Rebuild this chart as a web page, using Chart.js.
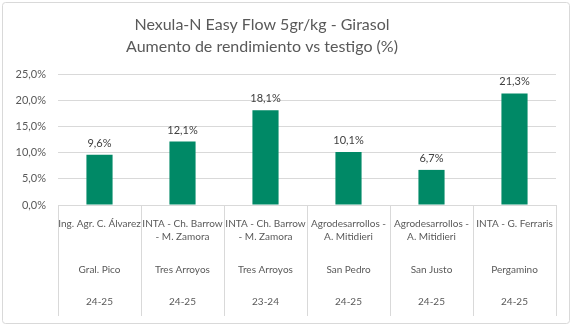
<!DOCTYPE html>
<html lang='es'>
<head>
  <meta charset='UTF-8'>
  <title>Nexula-N Easy Flow - Girasol</title>
  <script src="https://cdn.jsdelivr.net/npm/chart.js@4.4.1/dist/chart.umd.min.js"></script>
  <style>
    html, body { margin: 0; padding: 0; background: #fff; }
    #wrap { position: relative; width: 572px; height: 326px; }
  </style>
</head>
<body>
<div id="wrap"><canvas id="chart" width="572" height="326"></canvas></div>
<script>
  const titleLines = ['Nexula-N Easy Flow 5gr/kg - Girasol', 'Aumento de rendimiento vs testigo (%)'];
  const institutions = [
    ['Ing. Agr. C. Álvarez'],
    ['INTA - Ch. Barrow', '- M. Zamora'],
    ['INTA - Ch. Barrow', '- M. Zamora'],
    ['Agrodesarrollos -', 'A. Mitidieri'],
    ['Agrodesarrollos -', 'A. Mitidieri'],
    ['INTA - G. Ferraris']
  ];
  const locations = ['Gral. Pico', 'Tres Arroyos', 'Tres Arroyos', 'San Pedro', 'San Justo', 'Pergamino'];
  const seasons = ['24-25', '24-25', '23-24', '24-25', '24-25', '24-25'];
  const values = [9.6, 12.1, 18.1, 10.1, 6.7, 21.3];

  const FONT = 'Lato, "Open Sans", sans-serif';
  const fmt = v => v.toFixed(1).replace('.', ',') + '%';

  // frame, title, bar value labels and the 3-row category axis
  const decor = {
    id: 'decor',
    beforeDraw(chart) {
      const c = chart.ctx;
      c.save();
      c.fillStyle = '#fff';
      c.fillRect(0, 0, chart.width, chart.height);
      c.strokeStyle = '#d9d9d9';
      c.lineWidth = 1;
      c.beginPath();
      c.roundRect(2.5, 2.5, chart.width - 5, chart.height - 5, 3);
      c.stroke();
      c.restore();
    },
    afterDraw(chart) {
      const c = chart.ctx;
      const x = chart.scales.x;
      const area = chart.chartArea;
      c.save();
      // title
      c.fillStyle = '#595959';
      c.font = '16px ' + FONT;
      c.textAlign = 'center';
      c.textBaseline = 'middle';
      c.fillText(titleLines[0], 262, 25);
      c.fillText(titleLines[1], 262, 47);

      // value labels
      c.fillStyle = '#404040';
      c.font = '11px ' + FONT;
      c.textBaseline = 'bottom';
      chart.getDatasetMeta(0).data.forEach((bar, i) => {
        c.fillText(fmt(values[i]), bar.x, bar.y - 6);
      });

      // dividers
      c.strokeStyle = '#d9d9d9';
      c.lineWidth = 1;
      const half = (x.getPixelForValue(1) - x.getPixelForValue(0)) / 2;
      for (let i = 0; i <= values.length; i++) {
        const px = Math.round(x.getPixelForValue(i) - half) + 0.5;
        c.beginPath();
        c.moveTo(px, area.bottom);
        c.lineTo(px, 316);
        c.stroke();
      }

      // category rows
      c.fillStyle = '#595959';
      c.font = '10px ' + FONT;
      c.textBaseline = 'middle';
      values.forEach((v, i) => {
        const px = x.getPixelForValue(i);
        institutions[i].forEach((line, j) => c.fillText(line, px, 224 + j * 13));
        c.fillText(locations[i], px, 270);
        c.fillText(seasons[i], px, 302);
      });
      c.restore();
    }
  };

  new Chart(document.getElementById('chart'), {
    type: 'bar',
    data: {
      labels: locations,
      datasets: [{
        data: values,
        backgroundColor: '#008966',
        categoryPercentage: 1,
        barPercentage: 0.315
      }]
    },
    options: {
      responsive: false,
      animation: false,
      layout: { padding: { top: 74, bottom: 121, left: 0, right: 16 } },
      plugins: { legend: { display: false }, tooltip: { enabled: false } },
      scales: {
        x: {
          display: false
        },
        y: {
          min: 0,
          max: 25,
          ticks: {
            stepSize: 5,
            callback: v => fmt(v),
            color: '#595959',
            font: { family: FONT, size: 11 },
            padding: 12
          },
          grid: { color: '#d9d9d9', drawTicks: false },
          border: { display: false },
          afterFit: s => { s.width = 58; }
        }
      }
    },
    plugins: [decor]
  });
</script>
</body>
</html>
